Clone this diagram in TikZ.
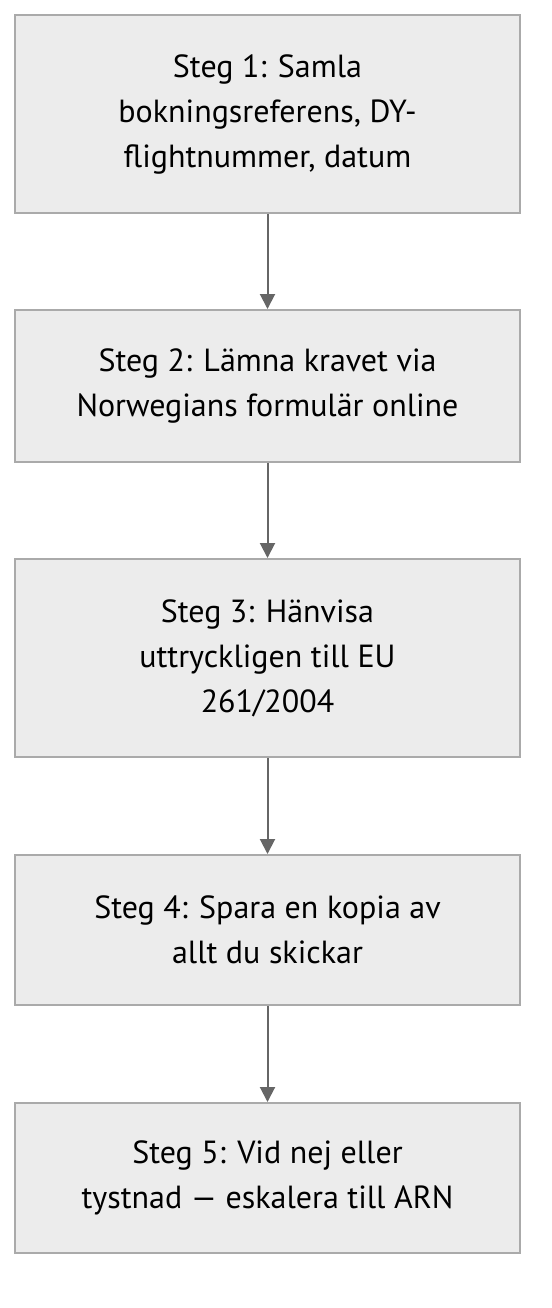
\documentclass[tikz,border=0pt]{standalone}
\usepackage{fontspec}
\setmainfont{PT Sans}
\usetikzlibrary{arrows.meta}
\definecolor{boxfill}{HTML}{ECECEC}
\definecolor{boxline}{HTML}{AAAAAA}
\definecolor{arrowcol}{HTML}{666666}
\begin{document}
\begin{tikzpicture}[x=0.5pt,y=-0.5pt,
  stepbox/.style={draw=boxline,fill=boxfill,line width=1pt,minimum width=252.5pt,
    inner sep=0pt,align=center,font=\fontsize{16}{22.5}\selectfont},
  flow/.style={draw=arrowcol,line width=1pt,-{Triangle[length=7.5pt,width=7.5pt]}}]
\useasboundingbox (0,0) rectangle (552,1308);
\node[stepbox,minimum height=99pt] (s1) at (267.5,114) {Steg 1: Samla\\bokningsreferens, DY-\\flightnummer, datum};
\node[stepbox,minimum height=76pt] (s2) at (267.5,386) {Steg 2: Lämna kravet via\\Norwegians formulär online};
\node[stepbox,minimum height=99pt] (s3) at (267.5,658) {Steg 3: Hänvisa\\uttryckligen till EU\\261/2004};
\node[stepbox,minimum height=75pt] (s4) at (267.5,930) {Steg 4: Spara en kopia av\\allt du skickar};
\node[stepbox,minimum height=75pt] (s5) at (267.5,1178) {Steg 5: Vid nej eller\\tystnad — eskalera till ARN};
\draw[flow] (s1) -- (s2);
\draw[flow] (s2) -- (s3);
\draw[flow] (s3) -- (s4);
\draw[flow] (s4) -- (s5);
\end{tikzpicture}
\end{document}
